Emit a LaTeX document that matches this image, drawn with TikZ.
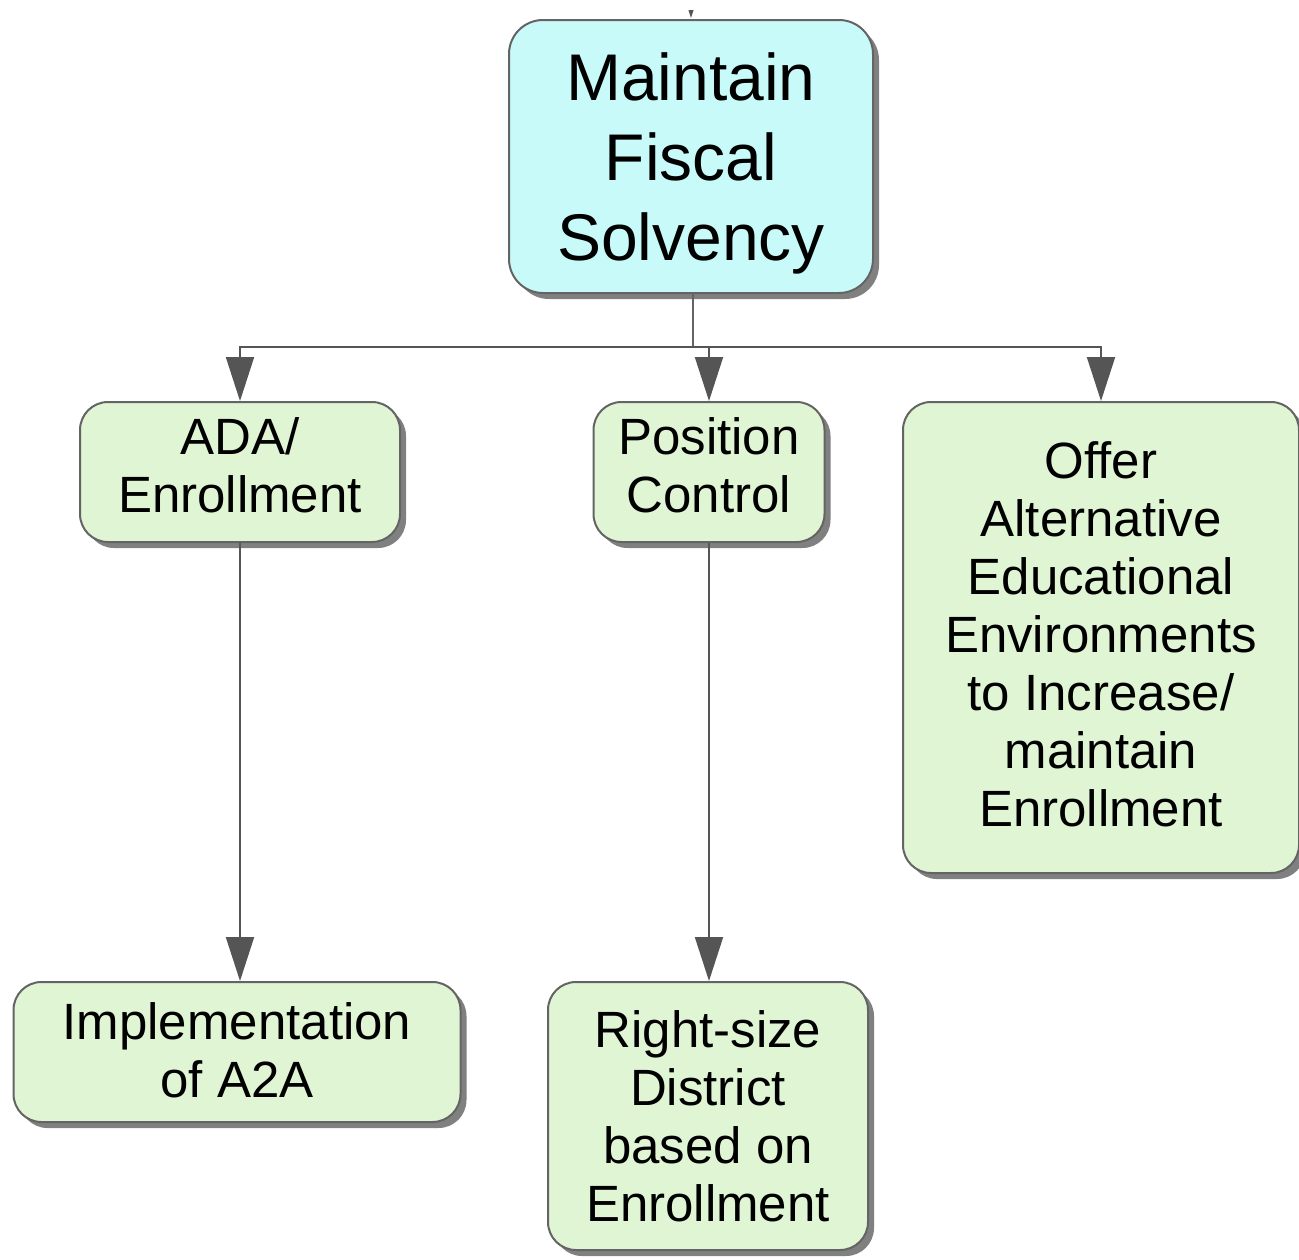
\documentclass[tikz,border=0pt]{standalone}
\usepackage{fontspec}
\setmainfont{Liberation Sans}
\usetikzlibrary{shadows,arrows.meta}
\definecolor{boxgreen}{RGB}{224,245,212}
\definecolor{boxcyan}{RGB}{200,250,250}
\definecolor{edge}{RGB}{100,100,100}
\definecolor{tipc}{RGB}{85,85,85}
\newcommand\stacklines[2]{\begin{tabular}{@{}c@{}}\rule{0pt}{#1}#2\end{tabular}}
\tikzset{
  boxbase/.style={draw=edge, line width=2pt, rounded corners=28pt,
    inner sep=0pt, text=black,
    drop shadow={shadow xshift=6pt, shadow yshift=-6pt, fill=black!50, opacity=1}},
  greenbox/.style={boxbase, fill=boxgreen, font=\fontsize{51}{58}\selectfont},
  topbox/.style={boxbase, fill=boxcyan, rounded corners=34pt, font=\fontsize{66}{80}\selectfont},
  conn/.style={draw=edge, line width=2pt},
  arr/.style={conn, -{Triangle[length=44pt, width=28pt, fill=tipc]}, tipc},
}
\begin{document}
\begin{tikzpicture}[x=1pt, y=-1pt]
\useasboundingbox (0,0) rectangle (1299,1259);
\clip (0,0) rectangle (1299,1259);
\fill[white] (0,0) rectangle (1299,1259);
\node[topbox, minimum width=364pt, minimum height=273pt] (top) at (691,156.5) {\stacklines{72pt}{Maintain\\Fiscal\\Solvency}};
\node[greenbox, minimum width=320pt, minimum height=140pt] (ada) at (240,472) {\stacklines{40.6pt}{ADA/\\Enrollment}};
\node[greenbox, minimum width=231pt, minimum height=140pt] (pos) at (709,472) {\stacklines{40.6pt}{Position\\Control}};
\node[greenbox, minimum width=396pt, minimum height=471pt] (offer) at (1101,637.5) {\stacklines{46.6pt}{Offer\\Alternative\\Educational\\Environments\\to Increase/\\maintain\\Enrollment}};
\node[greenbox, minimum width=447pt, minimum height=140pt] (impl) at (237,1052) {\stacklines{50.6pt}{Implementation\\of A2A}};
\node[greenbox, minimum width=320pt, minimum height=268pt] (right) at (708,1116) {\stacklines{54.6pt}{Right-size\\District\\based on\\Enrollment}};
\coordinate (above) at (691,-60);
\coordinate (toptip) at (691,18);
\coordinate (bus) at (693,347);
\begin{scope}
\clip (0,10) rectangle (1299,30);
\draw[arr] (above) -- (toptip);
\end{scope}
\draw[conn] (top.south -| bus) -- (bus);
\draw[arr] (bus) -| (ada.north);
\draw[arr] (bus) -| (pos.north);
\draw[arr] (bus) -| (offer.north);
\draw[arr] (ada.south) -- (impl.north -| ada.south);
\draw[arr] (pos.south) -- (right.north -| pos.south);
\end{tikzpicture}
\end{document}
